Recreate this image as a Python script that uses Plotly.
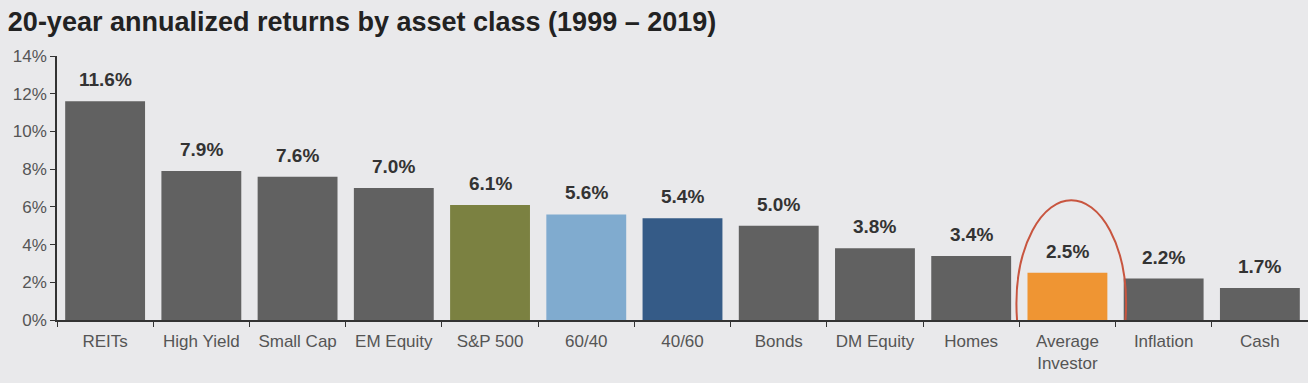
import plotly.graph_objects as go

categories = ["REITs", "High Yield", "Small Cap", "EM Equity", "S&P 500", "60/40", "40/60",
              "Bonds", "DM Equity", "Homes", "Average<br>Investor", "Inflation", "Cash"]
returns = [11.6, 7.9, 7.6, 7.0, 6.1, 5.6, 5.4, 5.0, 3.8, 3.4, 2.5, 2.2, 1.7]
labels = ["11.6%", "7.9%", "7.6%", "7.0%", "6.1%", "5.6%", "5.4%", "5.0%", "3.8%", "3.4%", "2.5%", "2.2%", "1.7%"]
bar_colors = ["#616161", "#616161", "#616161", "#616161", "#7b8141", "#80abcf", "#355b87",
              "#616161", "#616161", "#616161", "#ef9533", "#616161", "#616161"]
y_ticks = [0, 2, 4, 6, 8, 10, 12, 14]
y_tick_text = ["0%", "2%", "4%", "6%", "8%", "10%", "12%", "14%"]

bg = "#e9e9eb"
fig = go.Figure()
fig.add_trace(go.Bar(x=categories, y=returns, marker=dict(color=bar_colors, line=dict(width=0)),
                     hoverinfo="skip"))

for c, v, t in zip(categories, returns, labels):
    fig.add_annotation(x=c, y=v, text="<b>" + t + "</b>", showarrow=False, yanchor="bottom",
                       yshift=9, font=dict(family="Liberation Sans, Arial", size=19, color="#333333"))

# highlight ellipse around the Average Investor bar
idx = categories.index("Average<br>Investor")
fig.add_shape(type="circle", xref="x", yref="y", x0=idx - 0.53, x1=idx + 0.61, y0=-4.6, y1=6.35,
              line=dict(color="#c8553f", width=2), layer="above")

fig.update_layout(
    width=1308, height=383,
    paper_bgcolor=bg, plot_bgcolor=bg,
    margin=dict(l=57, r=0, t=56, b=63),
    bargap=0.17,
    showlegend=False,
    title=dict(text="<b>20-year annualized returns by asset class (1999 – 2019)</b>",
               x=0.006, xanchor="left", y=0.945, yanchor="middle",
               font=dict(family="Liberation Sans, Arial", size=27, color="#222222")),
    font=dict(family="Liberation Sans, Arial"),
)
fig.update_xaxes(showgrid=False, showline=True, linecolor="#333333", linewidth=1.5,
                 ticks="outside", tickson="boundaries", ticklen=5, tickcolor="#333333",
                 tickfont=dict(size=17, color="#555555"), range=[-0.5, 12.5],
                 ticklabelstandoff=5)
fig.update_yaxes(range=[0, 14], tickvals=y_ticks, ticktext=y_tick_text, showgrid=False,
                 showline=True, linecolor="#333333", linewidth=1.5, ticks="outside", ticklen=5,
                 tickcolor="#333333", tickfont=dict(size=17, color="#555555"), zeroline=False)

fig.write_html("out.html", config={"displayModeBar": False},
               post_script="document.body.style.margin='0';")
